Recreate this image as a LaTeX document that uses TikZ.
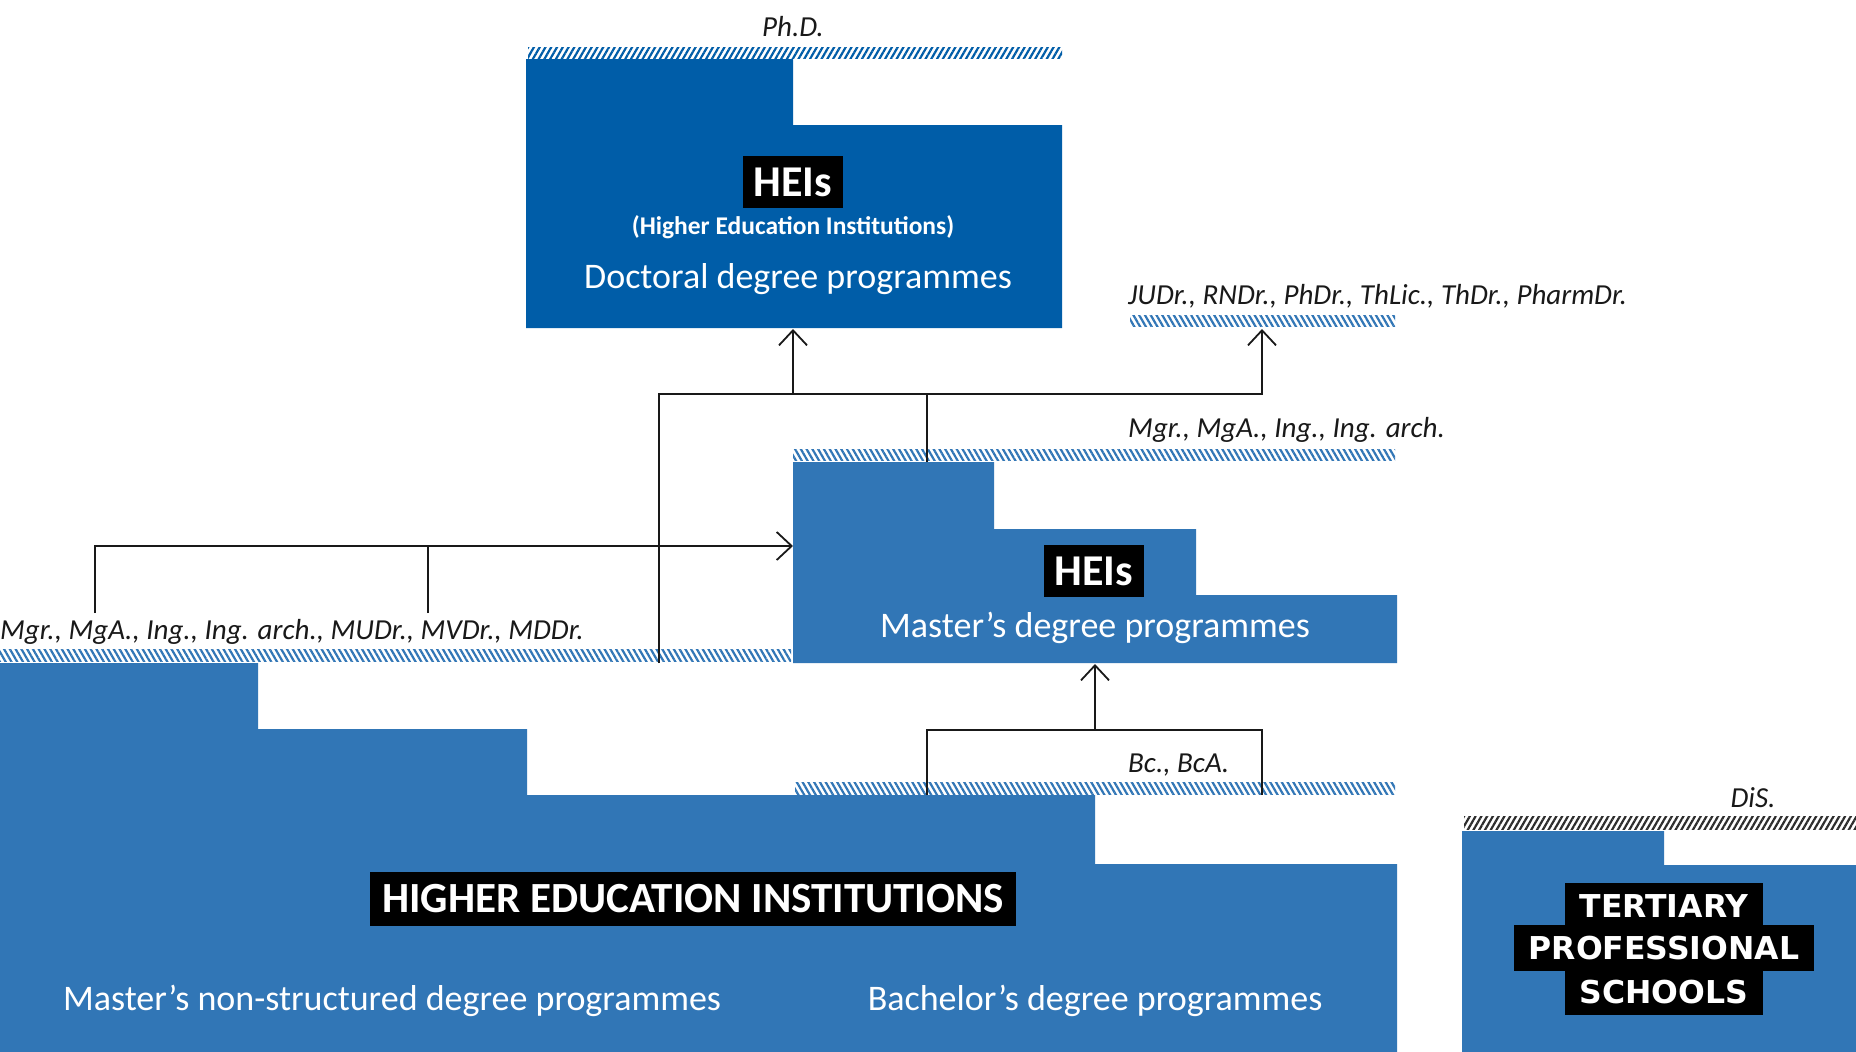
\documentclass[tikz,border=0pt]{standalone}
\usepackage{fontspec}
\setmainfont{Carlito}
\newfontfamily\tpsfont{DejaVu Sans}
\usetikzlibrary{arrows.meta,patterns.meta}
\definecolor{docblue}{RGB}{0,93,168}
\definecolor{midblue}{RGB}{49,118,182}
\definecolor{hatchgray}{RGB}{45,45,45}
\definecolor{ink}{RGB}{25,25,25}
\begin{document}
\begin{tikzpicture}[x=1pt,y=-1pt,
  conn/.style={draw=ink,line width=1.8pt},
  arr/.style={conn,-{Straight Barb[length=15pt,width=28pt,line width=1.8pt]}},
  lab/.style={text=ink,inner sep=0pt,font=\fontsize{29}{34}\selectfont\itshape},
  wtxt/.style={text=white,inner sep=0pt,font=\fontsize{36}{40}\selectfont},
  tag/.style={fill=black,text=white,inner xsep=11pt,inner ysep=0pt,minimum height=52pt,font=\fontsize{44}{48}\selectfont\bfseries},
  tps/.style={fill=black,text=white,inner xsep=15pt,inner ysep=0pt,minimum height=46pt,font=\fontsize{31.5}{36}\selectfont\tpsfont\bfseries},
  hatchR/.style={pattern={Lines[angle=60,distance=5pt,line width=2.2pt]}},
  hatchL/.style={pattern={Lines[angle=120,distance=5pt,line width=2.2pt]}}
]
\useasboundingbox[fill=white] (0,0) rectangle (1856,1052);

% blocks
\fill[docblue] (526,59) -- (793,59) -- (793,125) -- (1062,125) -- (1062,328) -- (526,328) -- cycle;
\fill[midblue] (793,462) -- (994,462) -- (994,529) -- (1196,529) -- (1196,595) -- (1397,595) -- (1397,663) -- (793,663) -- cycle;
\fill[midblue] (0,663) -- (258,663) -- (258,729) -- (527,729) -- (527,795) -- (1095,795) -- (1095,864) -- (1397,864) -- (1397,1052) -- (0,1052) -- cycle;
\fill[midblue] (1462,831) -- (1664,831) -- (1664,865) -- (1856,865) -- (1856,1052) -- (1462,1052) -- cycle;

% hatched bands
\fill[hatchR,pattern color=docblue] (528,47) rectangle (1062,58);
\fill[hatchL,pattern color=midblue] (1130,315) rectangle (1395,326);
\fill[hatchL,pattern color=midblue] (793,449) rectangle (1395,460);
\fill[hatchL,pattern color=midblue] (0,649) rectangle (791,661);
\fill[hatchL,pattern color=midblue] (795,782) rectangle (1395,794);
\fill[hatchR,pattern color=hatchgray] (1464,816) rectangle (1856,829);

% texts
\node[lab] (phd) at (793,27) {Ph.D.};
\node[tag] (hei1) at (793,182) {HEIs};
\node[text=white,inner sep=0pt,font=\fontsize{25.5}{29}\selectfont\bfseries] (heifull) at (793,227) {(Higher Education Institutions)};
\node[wtxt] (doc) at (798,279) {Doctoral degree programmes};
\node[lab,anchor=west] (judr) at (1128,296) {JUDr., RNDr., PhDr., ThLic., ThDr., PharmDr.};
\node[lab,anchor=west] (mgr1) at (1128,430) {Mgr., MgA., Ing., Ing. arch.};
\node[tag] (hei2) at (1094,571) {HEIs};
\node[wtxt] (mast) at (1095,628) {Master’s degree programmes};
\node[lab,anchor=west] (mgr2) at (0,632) {Mgr., MgA., Ing., Ing. arch., MUDr., MVDr., MDDr.};
\node[lab,anchor=west] (bc) at (1128,765) {Bc., BcA.};
\node[tag,font=\fontsize{43}{46}\selectfont\bfseries,inner xsep=12pt,minimum height=54pt] (heititle) at (693,899) {HIGHER EDUCATION INSTITUTIONS};
\node[wtxt] (nonstr) at (392,1001) {Master’s non-structured degree programmes};
\node[wtxt] (bach) at (1095,1001) {Bachelor’s degree programmes};
\node[lab] (dis) at (1753,798) {DiS.};
\node[tps] (tps2) at (1664,948) {PROFESSIONAL};
\node[tps] (tps1) at (1664,906) {TERTIARY};
\node[tps] (tps3) at (1664,992) {SCHOOLS};

% connector points
\coordinate (docB) at (793,329);
\coordinate (docJ) at (793,394);
\coordinate (judrB) at (1262,329);
\coordinate (busL) at (659,394);
\coordinate (srcL) at (659,663);
\coordinate (mJ) at (927,394);
\coordinate (mTop) at (927,462);
\coordinate (mLeft) at (793,546);
\coordinate (s1) at (95,613);
\coordinate (s2) at (428,613);
\coordinate (s2J) at (428,546);
\coordinate (mBot) at (1095,664);
\coordinate (bJ) at (1095,730);
\coordinate (b1) at (927,795);
\coordinate (b2) at (1262,795);
\coordinate (b1J) at (927,730);

% connectors
\draw[arr] (srcL) -- (busL) -| (judrB);
\draw[arr] (docJ) -- (docB);
\draw[conn] (mTop) -- (mJ);
\draw[arr] (s1) |- (mLeft);
\draw[conn] (s2) -- (s2J);
\draw[conn] (b1) -- (b1J) -| (b2);
\draw[arr] (bJ) -- (mBot);
\end{tikzpicture}
\end{document}
